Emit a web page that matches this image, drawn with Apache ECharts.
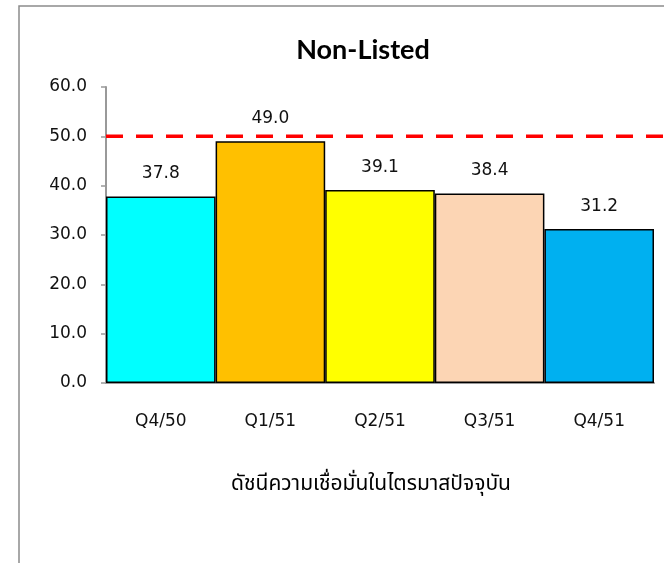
<!DOCTYPE html>
<html><head><meta charset="utf-8">
<script src="https://cdn.jsdelivr.net/npm/echarts@6/dist/echarts.min.js"></script>
<style>html,body{margin:0;padding:0;background:#fff}#c{width:664px;height:563px}</style>
</head><body><div id="c"></div>
<script>
const categories = ['Q4/50', 'Q1/51', 'Q2/51', 'Q3/51', 'Q4/51'];
const values = [37.8, 49.0, 39.1, 38.4, 31.2];
const barColors = ['#00FFFF', '#FFC000', '#FFFF00', '#FCD5B4', '#00B0F0'];
const threshold = 50;
const yTicks = [0, 10, 20, 30, 40, 50, 60];
const titleText = 'Non-Listed';
const axisTitle = 'ดัชนีความเชื่อมั่นในไตรมาสปัจจุบัน';

const font = 'Tahoma, "DejaVu Sans", "Noto Sans", sans-serif';
const fs = 17;
const chart = echarts.init(document.getElementById('c'));
chart.setOption({
  animation: false,
  title: {
    text: titleText, left: 358, top: 32, textAlign: 'center',
    textStyle: { fontFamily: 'Lato, "Open Sans", sans-serif', fontWeight: 'bold', fontSize: 27, color: '#000' }
  },
  graphic: [
    { type: 'rect', shape: { x: 19, y: 6, width: 700, height: 600 }, style: { fill: 'none', stroke: '#8c8c8c', lineWidth: 1.5 }, silent: true, z: -10 },
    { type: 'text', x: 371, y: 486, style: { text: axisTitle, textAlign: 'center', textVerticalAlign: 'middle', font: '21px "Noto Sans Thai", "Noto Sans", Tahoma, sans-serif', fill: '#000' } }
  ],
  grid: [
    { left: 106, right: 10, top: 87, bottom: 180 },
    { left: 106, right: 0, top: 87, bottom: 180 }
  ],
  xAxis: [
    {
      type: 'category', data: categories, gridIndex: 0,
      axisLine: { lineStyle: { color: '#999', width: 2 } },
      axisTick: { show: false },
      axisLabel: { margin: 30, fontSize: fs, color: '#111', fontFamily: font }
    },
    { type: 'value', gridIndex: 1, min: 0, max: 1, show: false }
  ],
  yAxis: [
    {
      type: 'value', min: yTicks[0], max: yTicks[yTicks.length - 1], interval: 10, gridIndex: 0,
      axisLine: { show: true, lineStyle: { color: '#999', width: 2 } },
      axisTick: { show: true, length: 5, lineStyle: { color: '#999', width: 1.5 } },
      splitLine: { show: false },
      axisLabel: { margin: 19, fontSize: fs, color: '#111', fontFamily: font, formatter: v => v.toFixed(1) }
    },
    { type: 'value', gridIndex: 1, min: yTicks[0], max: yTicks[yTicks.length - 1], show: false }
  ],
  series: [
    {
      type: 'bar', xAxisIndex: 0, yAxisIndex: 0,
      barCategoryGap: '0%',
      data: values.map((v, i) => ({ value: v, itemStyle: { color: barColors[i] } })),
      itemStyle: { borderColor: '#000', borderWidth: 1.5 },
      label: { show: true, position: 'top', distance: 14, fontSize: fs, color: '#111', fontFamily: font, formatter: p => p.value.toFixed(1) }
    },
    {
      type: 'line', xAxisIndex: 1, yAxisIndex: 1, symbol: 'none', z: 5,
      data: [[0, threshold], [1, threshold]],
      lineStyle: { color: '#FF0000', width: 3.5, type: [17, 13] }
    }
  ]
});
</script></body></html>
